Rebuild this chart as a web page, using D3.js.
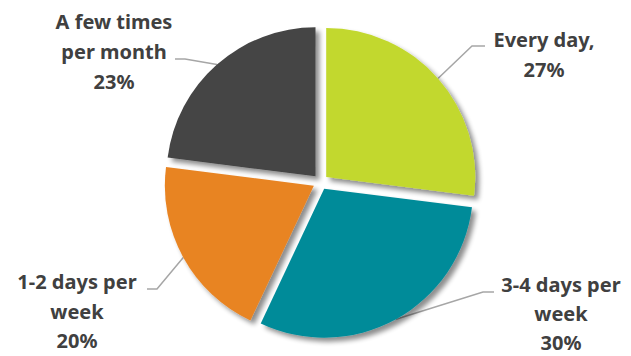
<!DOCTYPE html>
<html>
<head>
<meta charset="utf-8">
<script src="https://cdn.jsdelivr.net/npm/d3@7"></script>
<style>
  html, body { margin: 0; padding: 0; background: #fff; }
  svg { display: block; }
  .lbl { font-family: "Noto Sans", "Open Sans", sans-serif; font-weight: 700; font-size: 20px; fill: #404040; }
</style>
</head>
<body>
<svg id="chart" width="631" height="356"></svg>
<script>
// Survey answers, clockwise from 12 o'clock
const categories = ["Every day", "3-4 days per week", "1-2 days per week", "A few times per month"];
const shares = [27, 30, 20, 23];
const labelLines = [
  ["Every day,", "27%"],
  ["3-4 days per", "week", "30%"],
  ["1-2 days per", "week", "20%"],
  ["A few times", "per month", "23%"]
];
const colors = ["#c2d82e", "#008b99", "#e88424", "#444444"];

// Label placement: text centre x, first baseline y, line spacing, elbow of the leader line
const labelLayout = [
  { x: 544, y: 47, step: 30, elbow: [[485, 46], [472, 46]] },
  { x: 561, y: 292, step: 29, elbow: [[494, 292], [483, 292]] },
  { x: 77, y: 289, step: 29.5, elbow: [[147, 289], [157, 289]] },
  { x: 114, y: 29, step: 30, elbow: [[175, 59], [185, 59]] }
];

const cx = 320.5, cy = 182, radius = 149, explode = 7.6;

const svg = d3.select("#chart");
const defs = svg.append("defs");
const shadow = defs.append("filter").attr("id", "shadow")
  .attr("x", "-20%").attr("y", "-20%").attr("width", "140%").attr("height", "140%");
shadow.append("feGaussianBlur").attr("in", "SourceAlpha").attr("stdDeviation", 2.6).attr("result", "b");
shadow.append("feOffset").attr("in", "b").attr("dx", 3.5).attr("dy", 3.5).attr("result", "o");
shadow.append("feComponentTransfer").attr("in", "o").attr("result", "s")
  .append("feFuncA").attr("type", "linear").attr("slope", 0.45);
const merge = shadow.append("feMerge");
merge.append("feMergeNode").attr("in", "s");
merge.append("feMergeNode").attr("in", "SourceGraphic");

const pie = d3.pie().sort(null).value(d => d)(shares);
const arc = d3.arc().innerRadius(0).outerRadius(radius);

const g = svg.append("g").attr("transform", `translate(${cx},${cy})`);

function offsetOf(d) {
  const mid = (d.startAngle + d.endAngle) / 2;
  return [Math.sin(mid) * explode, -Math.cos(mid) * explode];
}

// Leader lines sit under the slices; they end on the outer rim at each slice's mid angle
const line = d3.line();
g.selectAll("path.leader").data(pie).join("path")
  .attr("class", "leader")
  .attr("fill", "none")
  .attr("stroke", "#a6a6a6")
  .attr("stroke-width", 1.5)
  .attr("d", (d, i) => {
    const mid = (d.startAngle + d.endAngle) / 2;
    const [ox, oy] = offsetOf(d);
    const rim = [ox + Math.sin(mid) * radius, oy - Math.cos(mid) * radius];
    const pts = labelLayout[i].elbow.map(p => [p[0] - cx, p[1] - cy]);
    return line([...pts, rim]);
  });

g.selectAll("path.slice").data(pie).join("path")
  .attr("class", "slice")
  .attr("transform", d => `translate(${offsetOf(d)})`)
  .attr("d", arc)
  .attr("fill", (d, i) => colors[i])
  .attr("filter", "url(#shadow)")
  .append("title").text((d, i) => `${categories[i]}: ${shares[i]}%`);

const labels = svg.selectAll("text.lbl").data(labelLines).join("text")
  .attr("class", "lbl")
  .attr("text-anchor", "middle")
  .attr("x", (d, i) => labelLayout[i].x)
  .attr("y", (d, i) => labelLayout[i].y);
labels.each(function (d, i) {
  const lay = labelLayout[i];
  d3.select(this).selectAll("tspan").data(d).join("tspan")
    .attr("x", lay.x)
    .attr("dy", (t, j) => j === 0 ? 0 : lay.step)
    .text(t => t);
});
</script>
</body>
</html>
